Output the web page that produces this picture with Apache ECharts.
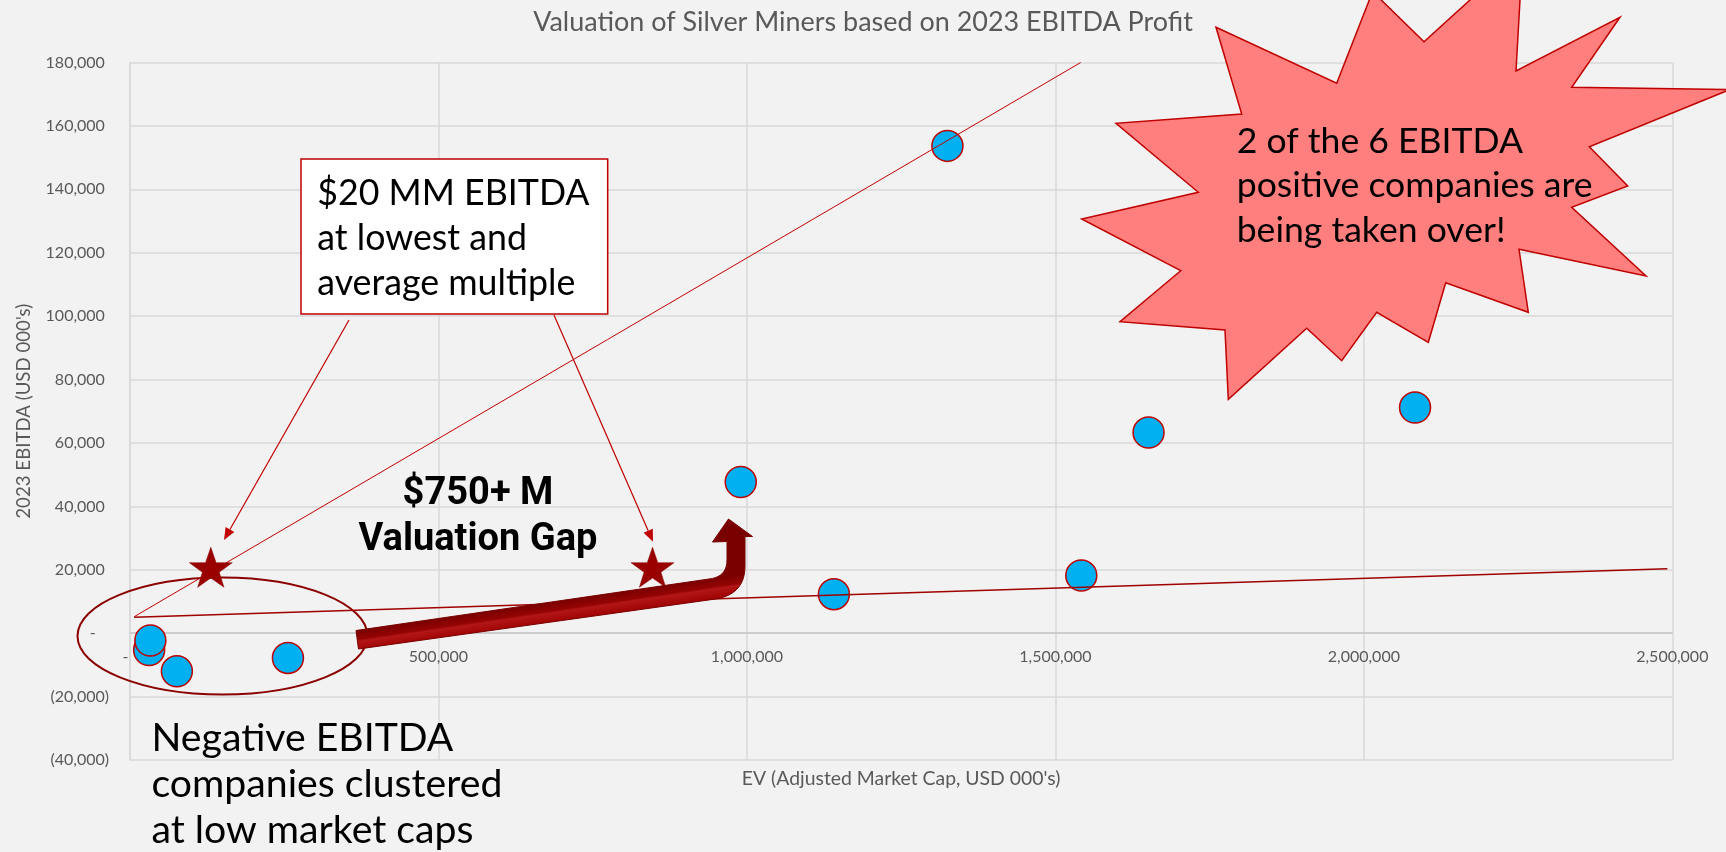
<!DOCTYPE html>
<html><head><meta charset="utf-8">
<script src="https://cdn.jsdelivr.net/npm/echarts@6/dist/echarts.min.js"></script>
<style>html,body{margin:0;padding:0;background:#F2F2F2}#c{width:1726px;height:852px}</style>
</head><body><div id="c"></div>
<script>
// ---- data ----
const evValues     = [31000, 33000, 76000, 256000, 990000, 1141000, 1325000, 1542000, 1651000, 2083000];
const ebitdaValues = [-5300, -2300, -12000, -7800, 47700, 12300, 153700, 18200, 63300, 71200];
const lowestMultipleEV     = [6800, 1541000];
const lowestMultipleEBITDA = [5200, 180000];
const averageMultipleEV     = [6800, 2492000];
const averageMultipleEBITDA = [5000, 20300];
const targetEV     = [131000, 847000];
const targetEBITDA = [20800, 20800];
const xTickValues = [0, 500000, 1000000, 1500000, 2000000, 2500000];
const yTickValues = [-40000, -20000, 0, 20000, 40000, 60000, 80000, 100000, 120000, 140000, 160000, 180000];

const titleText = 'Valuation of Silver Miners based on 2023 EBITDA Profit';
const xName = "EV (Adjusted Market Cap, USD 000's)";
const yName = "2023 EBITDA (USD 000's)";
const calloutLines = ['$20 MM EBITDA', 'at lowest and', 'average multiple'];
const burstLines = ['2 of the 6 EBITDA', 'positive companies are', 'being taken over!'];
const negativeLines = ['Negative EBITDA', 'companies clustered', 'at low market caps'];
const gapLines = ['$750+ M', 'Valuation Gap'];

// ---- helpers ----
const FONT = 'Lato, "Open Sans", sans-serif';
const ctx2 = document.createElement('canvas').getContext('2d');
function fitSize(text, weight, family, target) {
  ctx2.font = weight + ' 100px ' + family;
  return 100 * target / ctx2.measureText(text).width;
}
function zip(a, b) { return a.map((v, i) => [v, b[i]]); }
function fmtNum(v) {
  const s = Math.abs(v).toLocaleString('en-US');
  return v < 0 ? '(' + s + ')' : s;
}

const chart = echarts.init(document.getElementById('c'), null, {renderer: 'canvas'});

const titleSize = fitSize(titleText, 'normal', FONT, 660);
const xNameSize = fitSize(xName, 'normal', FONT, 319);
const yNameSize = fitSize(yName, 'normal', FONT, 215);
const calloutSize = fitSize(calloutLines[2], 'normal', FONT, 258);
const burstSize = fitSize(burstLines[1], 'normal', FONT, 356);
const negSize = fitSize(negativeLines[1], 'normal', FONT, 351);
const gapSize = fitSize(gapLines[1], 'bold', 'Roboto, sans-serif', 239);

// annotation geometry (pixels)
function textEl(t, x, y, size, opts) {
  opts = opts || {};
  return {
    type: 'text', x: x, y: y, z: 50,
    style: {
      text: t, fill: opts.fill || '#000', fontSize: size,
      fontFamily: opts.family || FONT, fontWeight: opts.weight || 'normal',
      align: opts.align || 'left', verticalAlign: 'middle',
      textAlign: opts.align || 'left', textVerticalAlign: 'middle'
    }
  };
}
function arrowEls(x1, y1, x2, y2, color) {
  const dx = x2 - x1, dy = y2 - y1, L = Math.hypot(dx, dy);
  const ux = dx / L, uy = dy / L, px = -uy, py = ux;
  const hl = 12, hw = 5;
  const bx = x2 - ux * hl, by = y2 - uy * hl;
  return [
    {type: 'line', z: 40, shape: {x1: x1, y1: y1, x2: bx, y2: by}, style: {stroke: color, lineWidth: 1.2}},
    {type: 'polygon', z: 40, shape: {points: [[x2, y2], [bx + px * hw, by + py * hw], [bx - px * hw, by - py * hw]]}, style: {fill: color}}
  ];
}
function quad(p0, c, p1, n) {
  const out = [];
  for (let i = 1; i <= n; i++) {
    const t = i / n, a = (1 - t) * (1 - t), b = 2 * (1 - t) * t, d = t * t;
    out.push([a * p0[0] + b * c[0] + d * p1[0], a * p0[1] + b * c[1] + d * p1[1]]);
  }
  return out;
}
const bigArrow = [[356, 630.5], [709, 579]]
  .concat(quad([709, 579], [727, 577], [727, 560], 10))
  .concat([[727, 541.5], [712.5, 542], [728.5, 519], [752.5, 536.5], [745, 536.5], [745, 566]])
  .concat(quad([745, 566], [745, 596], [712, 599.5], 12))
  .concat([[358.5, 649]]);

const burst = [
  [1216, 27.3], [1336.7, 83.3], [1372.6, -8.4], [1424, 41.7], [1522.7, -47.8], [1516, 71],
  [1620, 17.3], [1571.7, 87.3], [1730, 89.5], [1589.3, 146.7], [1627.7, 186], [1571.7, 207.3],
  [1646, 276], [1519, 249.3], [1528.3, 312.3], [1445.7, 282.7], [1428.3, 342.3], [1376.7, 312.3],
  [1341.7, 360.7], [1306.7, 328.3], [1228.3, 399.3], [1225, 330], [1120, 321.7], [1180.7, 270.7],
  [1081.7, 219], [1198.3, 192.3], [1116, 123.3], [1241.7, 114]
];

const graphics = [
  {type: 'ellipse', z: 1, shape: {cx: 222.5, cy: 636, rx: 145, ry: 58.5}, style: {fill: 'none', stroke: '#8B0000', lineWidth: 2}},
  {type: 'polygon', z: 30, shape: {points: bigArrow},
   style: {stroke: '#7A0000', lineWidth: 1,
     fill: new echarts.graphic.LinearGradient(536, 604.5, 538.8, 623.5, [
       {offset: 0, color: '#7A0000'}, {offset: 0.45, color: '#950404'},
       {offset: 0.55, color: '#B31616'}, {offset: 1, color: '#A10505'}], true)}},
  {type: 'polygon', z: 35, shape: {points: burst}, style: {fill: '#FF7F7F', stroke: '#C00000', lineWidth: 1.5}},
  {type: 'rect', z: 35, shape: {x: 301, y: 159, width: 306.7, height: 155}, style: {fill: '#FFFFFF', stroke: '#C00000', lineWidth: 1.5}}
]
  .concat(arrowEls(349, 320, 224, 540, '#C00000'))
  .concat(arrowEls(554, 315, 653, 541.7, '#C00000'))
  .concat([
    textEl(calloutLines[0], 317.3, 193, calloutSize),
    textEl(calloutLines[1], 317.3, 238, calloutSize),
    textEl(calloutLines[2], 317.3, 283, calloutSize),
    textEl(burstLines[0], 1236.7, 141.3, burstSize),
    textEl(burstLines[1], 1236.7, 185.8, burstSize),
    textEl(burstLines[2], 1236.7, 230.3, burstSize),
    textEl(negativeLines[0], 151.5, 738.3, negSize),
    textEl(negativeLines[1], 151.5, 784.3, negSize),
    textEl(negativeLines[2], 151.5, 830.3, negSize),
    textEl(gapLines[0], 478, 494, gapSize, {weight: 'bold', family: 'Roboto, sans-serif', align: 'center'}),
    textEl(gapLines[1], 478, 540, gapSize, {weight: 'bold', family: 'Roboto, sans-serif', align: 'center'})
  ]);

const starPath = 'path://M50,0 L61.8,35.1 L98.1,35.1 L68.8,56.7 L79.4,91 L50,70 L20.6,91 L31.2,56.7 L1.9,35.1 L38.2,35.1 Z';
const axisLabelStyle = {color: '#595959', fontFamily: FONT, fontSize: 16};

const gridBottom = 92;
chart.setOption({
  backgroundColor: '#F2F2F2',
  animation: false,
  title: {text: titleText, left: 'center', top: 4,
    textStyle: {color: '#595959', fontFamily: FONT, fontWeight: 'normal', fontSize: titleSize}},
  grid: {left: 130, right: 53.7, top: 62.5, bottom: gridBottom, containLabel: false, outerBoundsMode: 'none'},
  xAxis: {
    type: 'value', min: xTickValues[0], max: xTickValues[xTickValues.length - 1],
    interval: xTickValues[1] - xTickValues[0], position: 'bottom', offset: 0,
    name: xName, nameLocation: 'middle', nameGap: 136,
    nameTextStyle: {color: '#595959', fontFamily: FONT, fontSize: xNameSize},
    axisLine: {onZero: false, lineStyle: {color: '#C8C8C8', width: 1.5}},
    axisTick: {show: false},
    axisLabel: Object.assign({margin: 16, formatter: v => v === 0 ? '-\u2007' : fmtNum(v)}, axisLabelStyle),
    splitLine: {show: true, lineStyle: {color: '#D9D9D9', width: 1.5}}
  },
  yAxis: {
    type: 'value', min: yTickValues[0], max: yTickValues[yTickValues.length - 1],
    interval: yTickValues[1] - yTickValues[0],
    name: yName, nameLocation: 'middle', nameGap: 97, nameRotate: 90,
    nameTextStyle: {color: '#595959', fontFamily: FONT, fontSize: yNameSize},
    axisLine: {show: true, onZero: false, lineStyle: {color: '#D9D9D9', width: 1.5}},
    axisTick: {show: false},
    axisLabel: Object.assign({margin: 21, formatter: v => v === 0 ? '-\u2007 ' : (v < 0 ? fmtNum(v) : fmtNum(v) + ' ')}, axisLabelStyle),
    splitLine: {show: true, lineStyle: {color: '#D9D9D9', width: 1.5}}
  },
  graphic: {elements: graphics},
  series: [
    {type: 'scatter', name: 'Silver miners', z: 2, data: zip(evValues, ebitdaValues),
     symbol: 'circle', symbolSize: 31,
     itemStyle: {color: '#00B0F0', borderColor: '#C00000', borderWidth: 1.5, opacity: 1}},
    {type: 'line', name: 'Lowest multiple', z: 3, data: zip(lowestMultipleEV, lowestMultipleEBITDA),
     showSymbol: false, symbol: 'none', lineStyle: {color: '#C00000', width: 1}},
    {type: 'line', name: 'Average multiple', z: 3, data: zip(averageMultipleEV, averageMultipleEBITDA),
     showSymbol: false, symbol: 'none', lineStyle: {color: '#A00000', width: 1.5}},
    {type: 'scatter', name: '$20 MM EBITDA', z: 5, data: zip(targetEV, targetEBITDA),
     symbol: starPath, symbolSize: [43, 40],
     itemStyle: {color: '#990000', borderColor: '#8B0000', borderWidth: 0.5, opacity: 1}}
  ]
});
// move the x axis up so that it crosses the y axis at 0 (Excel style)
const zeroPx = chart.convertToPixel({yAxisIndex: 0}, 0);
const bottomPx = 852 - gridBottom;
chart.setOption({xAxis: {offset: zeroPx - bottomPx}});
</script></body></html>
